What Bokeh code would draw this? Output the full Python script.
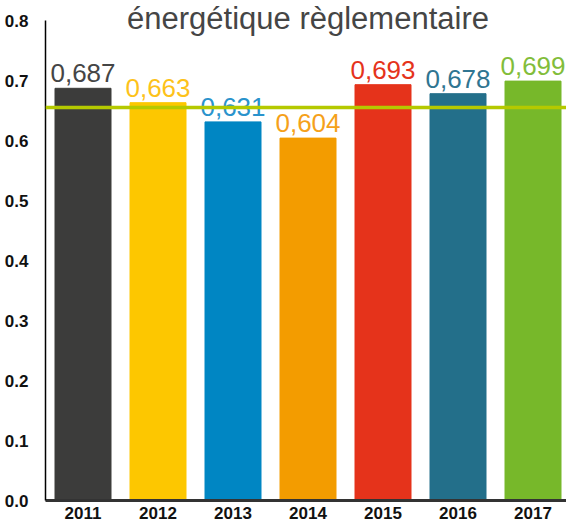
from bokeh.plotting import figure
from bokeh.models import Range1d, FixedTicker, Span, ColumnDataSource, PrintfTickFormatter
from bokeh.core.properties import value
from bokeh.embed import file_html
from bokeh.resources import INLINE

years = ["2011", "2012", "2013", "2014", "2015", "2016", "2017"]
values = [0.687, 0.663, 0.631, 0.604, 0.693, 0.678, 0.699]
bar_colors = ["#3c3c3b", "#fdc700", "#0086c3", "#f39c00", "#e5331b", "#236f8a", "#77b82a"]
label_colors = ["#454545", "#fdc21a", "#2a93cc", "#f5a11a", "#e5331b", "#2f7591", "#82bd3a"]
threshold = 0.655
y_ticks = [0.0, 0.1, 0.2, 0.3, 0.4, 0.5, 0.6, 0.7, 0.8]
title_text = "énergétique règlementaire"

W, H = 566, 521
LEFT, BOTTOM = 45, 21
PX_PER_UNIT = 600  # pixels per 1.0 on the y axis
PX_PER_BAR = 75

idx = list(range(len(years)))
src = ColumnDataSource(dict(
    x=idx, top=values, color=bar_colors, lcolor=label_colors,
    label=[f"{v:.3f}".replace(".", ",") for v in values],
))

y_top = (H - BOTTOM) / PX_PER_UNIT
p = figure(width=W, height=H, output_backend="svg", toolbar_location=None,
           x_range=Range1d(-0.5, -0.5 + (W - LEFT) / PX_PER_BAR), y_range=Range1d(0, y_top),
           min_border_left=LEFT, min_border_right=0, min_border_top=0, min_border_bottom=BOTTOM)
p.outline_line_color = None
p.xgrid.grid_line_color = None
p.ygrid.grid_line_color = None

p.vbar(x="x", top="top", width=56 / PX_PER_BAR, color="color", source=src)
p.text(x="x", y="top", text="label", text_color="lcolor", source=src,
       text_align="center", text_baseline="alphabetic", y_offset=-15,
       text_font=value("Liberation Sans"), text_font_size="26px")

p.add_layout(Span(location=threshold, dimension="width", line_color="#b5c900", line_width=3.5))

# title (the reference shows only its last line, right at the top edge)
p.text(x=[3], y=[y_top - 18 / PX_PER_UNIT], text=[title_text], text_align="center",
       text_baseline="alphabetic", text_font=value("Liberation Sans"), text_font_size="31px",
       text_color="#454545")

p.xaxis.ticker = FixedTicker(ticks=idx)
p.xaxis.major_label_overrides = {i: y for i, y in zip(idx, years)}
p.xaxis.major_tick_line_color = None
p.xaxis.minor_tick_line_color = None
p.xaxis.axis_line_color = "#333333"
p.xaxis.axis_line_width = 3
p.xaxis.major_label_standoff = 0
p.xaxis.major_label_text_font = "Liberation Sans"
p.xaxis.major_label_text_font_style = "bold"
p.xaxis.major_label_text_font_size = "17px"
p.xaxis.major_label_text_color = "#111111"

p.yaxis.ticker = FixedTicker(ticks=y_ticks)
p.yaxis.bounds = (0, 0.8)
p.yaxis.formatter = PrintfTickFormatter(format="%.1f")
p.yaxis.major_tick_line_color = None
p.yaxis.minor_tick_line_color = None
p.yaxis.axis_line_color = "#000000"
p.yaxis.axis_line_width = 1.5
p.yaxis.major_label_standoff = 11
p.yaxis.major_label_text_font = "Liberation Sans"
p.yaxis.major_label_text_font_style = "bold"
p.yaxis.major_label_text_font_size = "17px"
p.yaxis.major_label_text_color = "#111111"

open("out.html", "w").write(file_html(p, INLINE))
